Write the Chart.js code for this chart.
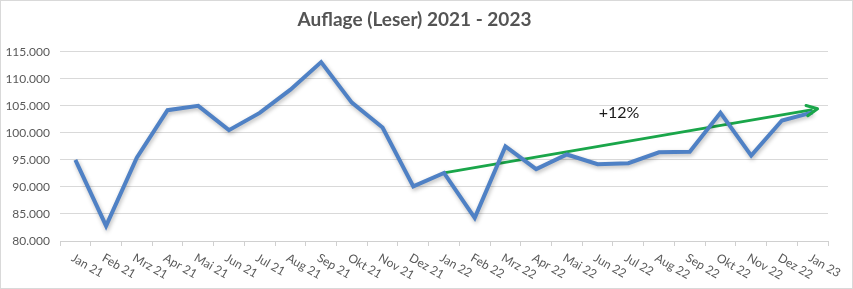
<!DOCTYPE html>
<html>
<head>
<meta charset="utf-8">
<script src="https://cdn.jsdelivr.net/npm/chart.js@4/dist/chart.umd.min.js"></script>
<style>
  html, body { margin: 0; padding: 0; background: #fff; }
  #box { width: 851px; height: 287px; border: 1px solid #d9d9d9; }
</style>
</head>
<body>
<div id="box"><canvas id="chart" width="851" height="287"></canvas></div>
<script>
// Monate (Kategorien)
const monate = [
  "Jan 21", "Feb 21", "Mrz 21", "Apr 21", "Mai 21", "Jun 21", "Jul 21", "Aug 21", "Sep 21", "Okt 21", "Nov 21", "Dez 21",
  "Jan 22", "Feb 22", "Mrz 22", "Apr 22", "Mai 22", "Jun 22", "Jul 22", "Aug 22", "Sep 22", "Okt 22", "Nov 22", "Dez 22",
  "Jan 23"
];

// Auflage (Leser) pro Monat
const leser = [
  95000, 82800, 95400, 104200, 105000, 100500, 103700, 108000, 113100, 105600, 101000, 90100,
  92600, 84300, 97500, 93300, 96000, 94200, 94400, 96400, 96500, 103700, 95800, 102300,
  103800
];

// Trendpfeil: Start Jan 22, Ende Jan 23
const trend = monate.map(() => null);
trend[12] = 92600;
trend[24] = 104300;
const trendText = "+12%";

// Y-Achse
const yMin = 80000;
const yMax = 115000;
const yStep = 5000;

function formatZahl(v) {
  return String(Math.round(v)).replace(/\B(?=(\d{3})+(?!\d))/g, ".");
}

// Schatten für die Linie (wie Excel)
const schattenPlugin = {
  id: "schatten",
  beforeDatasetDraw(chart, args) {
    if (args.index === 0) {
      const ctx = chart.ctx;
      ctx.save();
      ctx.shadowColor = "rgba(0,0,0,0.28)";
      ctx.shadowBlur = 4;
      ctx.shadowOffsetX = 1;
      ctx.shadowOffsetY = 2;
    }
  },
  afterDatasetDraw(chart, args) {
    if (args.index === 0) chart.ctx.restore();
  }
};

// Schräge X-Beschriftung, Pfeilspitze und Prozenttext
const extrasPlugin = {
  id: "extras",
  afterDraw(chart) {
    const ctx = chart.ctx;
    const x = chart.scales.x;
    const y = chart.scales.y;

    // X-Beschriftung (im Uhrzeigersinn gedreht)
    ctx.save();
    ctx.fillStyle = "#595959";
    ctx.font = "12px Lato, 'Open Sans', sans-serif";
    ctx.textAlign = "left";
    ctx.textBaseline = "middle";
    monate.forEach((m, i) => {
      const px = x.getPixelForValue(i);
      ctx.save();
      ctx.translate(px - 3, chart.chartArea.bottom + 16);
      ctx.rotate(30 * Math.PI / 180);
      ctx.fillText(m, 0, 0);
      ctx.restore();
    });
    ctx.restore();

    // Pfeilspitze am Ende des Trends
    const x0 = x.getPixelForValue(12), y0 = y.getPixelForValue(trend[12]);
    const x1 = x.getPixelForValue(24), y1 = y.getPixelForValue(trend[24]);
    const ang = Math.atan2(y1 - y0, x1 - x0);
    const tipX = x1 + 5 * Math.cos(ang), tipY = y1 + 5 * Math.sin(ang);
    ctx.save();
    ctx.strokeStyle = "#1aa64a";
    ctx.lineWidth = 3;
    ctx.lineCap = "round";
    ctx.lineJoin = "round";
    ctx.beginPath();
    ctx.moveTo(tipX - 12 * Math.cos(ang - 0.45), tipY - 12 * Math.sin(ang - 0.45));
    ctx.lineTo(tipX, tipY);
    ctx.lineTo(tipX - 12 * Math.cos(ang + 0.45), tipY - 12 * Math.sin(ang + 0.45));
    ctx.stroke();
    ctx.restore();

    // Prozenttext
    ctx.save();
    ctx.fillStyle = "#1a1a1a";
    ctx.font = "16px Lato, 'Open Sans', sans-serif";
    ctx.textAlign = "center";
    ctx.textBaseline = "middle";
    ctx.fillText(trendText, x.getPixelForValue(17.7), y.getPixelForValue(103800));
    ctx.restore();
  }
};

new Chart(document.getElementById("chart").getContext("2d"), {
  type: "line",
  data: {
    labels: monate,
    datasets: [
      {
        label: "Auflage",
        data: leser,
        borderColor: "#4f81c5",
        borderWidth: 4,
        pointRadius: 0,
        tension: 0,
        borderJoinStyle: "miter",
        fill: false
      },
      {
        label: "Trend",
        data: trend,
        borderColor: "#1aa64a",
        borderWidth: 3,
        pointRadius: 0,
        spanGaps: true,
        fill: false
      }
    ]
  },
  options: {
    responsive: false,
    animation: false,
    layout: { padding: { left: 0, right: 24, top: 0, bottom: 42 } },
    plugins: {
      legend: { display: false },
      tooltip: { enabled: false },
      title: {
        display: true,
        text: "Auflage (Leser) 2021 - 2023",
        color: "#545454",
        font: { family: "Lato, 'Open Sans', sans-serif", size: 19, weight: "bold" },
        padding: { top: 7, bottom: 21 }
      }
    },
    scales: {
      x: {
        offset: true,
        grid: {
          offset: true,
          drawOnChartArea: false,
          drawTicks: true,
          tickLength: 5,
          color: "#d0d0d0"
        },
        border: { color: "#d0d0d0" },
        ticks: { display: false }
      },
      y: {
        min: yMin,
        max: yMax,
        afterFit(scale) { scale.width = 59; },
        ticks: {
          stepSize: yStep,
          padding: 10,
          color: "#595959",
          font: { family: "Lato, 'Open Sans', sans-serif", size: 12 },
          callback: (v) => formatZahl(v)
        },
        grid: { color: "#d9d9d9", drawTicks: false },
        border: { display: false }
      }
    }
  },
  plugins: [schattenPlugin, extrasPlugin]
});
</script>
</body>
</html>
